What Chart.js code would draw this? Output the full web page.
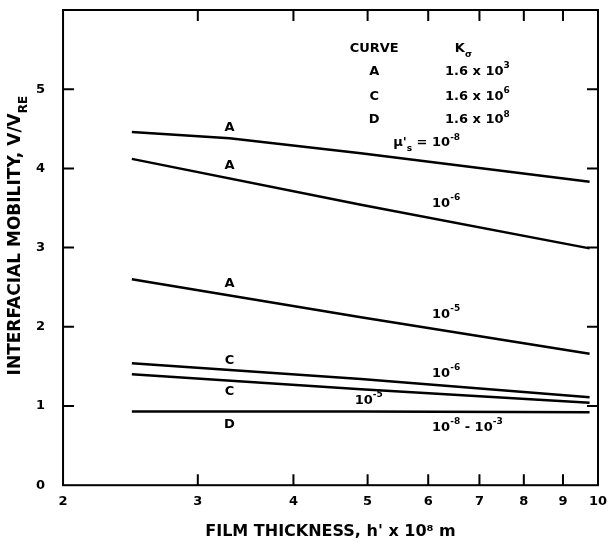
<!DOCTYPE html>
<html>
<head>
<meta charset="utf-8">
<script src="https://cdn.jsdelivr.net/npm/chart.js@4"></script>
<style>
  html, body { margin: 0; padding: 0; background: #fff; }
  #wrap { width: 608px; height: 544px; }
</style>
</head>
<body>
<div id="wrap"><canvas id="myChart"></canvas></div>
<script>
// film thickness h' x 10^8 m, log axis
const xTicks = [2, 3, 4, 5, 6, 7, 8, 9, 10];
const yTicks = [0, 1, 2, 3, 4, 5];

// curve A, mu's = 10^-8 (slightly bent)
const xA1 = [2.46, 3.3, 4.9, 9.75];
const yA1 = [4.46, 4.38, 4.19, 3.83];

// the other curves are straight on the log axis
const xLine = [2.46, 4.9, 9.75];
const yA2 = [4.12, 3.54, 2.99]; // A, 10^-6
const yA3 = [2.60, 2.12, 1.66]; // A, 10^-5
const yC1 = [1.54, 1.34, 1.11]; // C, 10^-6
const yC2 = [1.40, 1.21, 1.04]; // C, 10^-5
const yD  = [0.93, 0.93, 0.92]; // D, 10^-8 - 10^-3

const FONT = "'DejaVu Sans', sans-serif";

// text notes placed in data units (^{..} superscript, _{..} subscript)
const notes = [
  { t: "A", x: 3.3, y: 4.51, a: "center" },
  { t: "A", x: 3.3, y: 4.03, a: "center" },
  { t: "A", x: 3.3, y: 2.55, a: "center" },
  { t: "C", x: 3.3, y: 1.57, a: "center" },
  { t: "C", x: 3.3, y: 1.18, a: "center" },
  { t: "D", x: 3.3, y: 0.76, a: "center" },
  { t: "\u03bc'_{s} = 10^{-8}", x: 5.40, y: 4.32, a: "left" },
  { t: "10^{-6}", x: 6.07, y: 3.56, a: "left" },
  { t: "10^{-5}", x: 6.07, y: 2.15, a: "left" },
  { t: "10^{-6}", x: 6.07, y: 1.41, a: "left" },
  { t: "10^{-5}", x: 4.81, y: 1.07, a: "left" },
  { t: "10^{-8} - 10^{-3}", x: 6.07, y: 0.73, a: "left" },
  { t: "CURVE", x: 5.1, y: 5.51, a: "center" },
  { t: "K_{\u03c3}", x: 6.50, y: 5.51, a: "left" },
  { t: "A", x: 5.1, y: 5.22, a: "center" },
  { t: "C", x: 5.1, y: 4.91, a: "center" },
  { t: "D", x: 5.1, y: 4.61, a: "center" },
  { t: "1.6 x 10^{3}", x: 6.31, y: 5.22, a: "left" },
  { t: "1.6 x 10^{6}", x: 6.31, y: 4.91, a: "left" },
  { t: "1.6 x 10^{8}", x: 6.31, y: 4.61, a: "left" }
];

function pts(xs, ys) {
  return xs.map((x, i) => ({ x: x, y: ys[i] }));
}

function drawRich(ctx, str, x, y, size, align) {
  const parts = [];
  const re = /([\^_])\{([^}]*)\}/g;
  let last = 0, m;
  while ((m = re.exec(str))) {
    if (m.index > last) parts.push({ t: str.slice(last, m.index), mode: 0 });
    parts.push({ t: m[2], mode: m[1] === "^" ? 1 : -1 });
    last = re.lastIndex;
  }
  if (last < str.length) parts.push({ t: str.slice(last), mode: 0 });
  const fontFor = p => "bold " + (p.mode ? Math.round(size * 0.72) : size) + "px " + FONT;
  let w = 0;
  parts.forEach(p => { ctx.font = fontFor(p); p.w = ctx.measureText(p.t).width; w += p.w; });
  let cx = align === "center" ? x - w / 2 : align === "right" ? x - w : x;
  ctx.textAlign = "left";
  ctx.textBaseline = "middle";
  parts.forEach(p => {
    ctx.font = fontFor(p);
    ctx.fillText(p.t, cx, y - p.mode * size * 0.45);
    cx += p.w;
  });
}

const framePlugin = {
  id: "frame",
  afterDatasetsDraw(chart) {
    const ctx = chart.ctx;
    const area = chart.chartArea;
    const xs = chart.scales.x, ys = chart.scales.y;
    ctx.save();
    ctx.strokeStyle = "#000";
    ctx.fillStyle = "#000";
    ctx.lineWidth = 2;
    ctx.strokeRect(area.left, area.top, area.right - area.left, area.bottom - area.top);
    // inward ticks on all four sides
    const len = 11;
    ctx.beginPath();
    xTicks.slice(1, -1).forEach(v => {
      const px = xs.getPixelForValue(v);
      ctx.moveTo(px, area.bottom); ctx.lineTo(px, area.bottom - len);
      ctx.moveTo(px, area.top); ctx.lineTo(px, area.top + len);
    });
    yTicks.slice(1).forEach(v => {
      const py = ys.getPixelForValue(v);
      ctx.moveTo(area.left, py); ctx.lineTo(area.left + len, py);
      ctx.moveTo(area.right, py); ctx.lineTo(area.right - len, py);
    });
    ctx.stroke();
    notes.forEach(n => {
      drawRich(ctx, n.t, xs.getPixelForValue(n.x), ys.getPixelForValue(n.y), 13, n.a);
    });
    // y axis title with subscript
    ctx.translate(16, (area.top + area.bottom) / 2 - 12);
    ctx.rotate(-Math.PI / 2);
    drawRich(ctx, "INTERFACIAL MOBILITY, V/V_{RE}", 0, 0, 17, "center");
    ctx.restore();
  }
};

const lineStyle = { borderColor: "#000", borderWidth: 2.5, pointRadius: 0, fill: false, tension: 0 };

const ctx = document.getElementById("myChart").getContext("2d");
const myChart = new Chart(ctx, {
  type: "line",
  data: {
    datasets: [
      Object.assign({ label: "A 1e-8", data: pts(xA1, yA1) }, lineStyle),
      Object.assign({ label: "A 1e-6", data: pts(xLine, yA2) }, lineStyle),
      Object.assign({ label: "A 1e-5", data: pts(xLine, yA3) }, lineStyle),
      Object.assign({ label: "C 1e-6", data: pts(xLine, yC1) }, lineStyle),
      Object.assign({ label: "C 1e-5", data: pts(xLine, yC2) }, lineStyle),
      Object.assign({ label: "D", data: pts(xLine, yD) }, lineStyle)
    ]
  },
  options: {
    responsive: true,
    maintainAspectRatio: false,
    animation: false,
    layout: { padding: { left: 18, top: 10, right: 10, bottom: 3 } },
    plugins: {
      legend: { display: false },
      tooltip: { enabled: false }
    },
    scales: {
      x: {
        type: "logarithmic",
        min: 2,
        max: 10,
        afterBuildTicks: s => { s.ticks = xTicks.map(v => ({ value: v })); },
        afterFit: s => { s.paddingLeft = 0; s.paddingRight = 0; },
        grid: { display: false, drawTicks: false },
        border: { display: false },
        ticks: {
          color: "#000",
          padding: 9,
          maxRotation: 0,
          autoSkip: false,
          font: { family: FONT, size: 13, weight: "bold" },
          callback: v => String(v)
        },
        title: {
          display: true,
          text: "FILM THICKNESS, h' x 10\u2078 m",
          color: "#000",
          padding: { top: 3, bottom: 0 },
          font: { family: FONT, size: 16, weight: "bold" }
        }
      },
      y: {
        min: 0,
        max: 6,
        afterBuildTicks: s => { s.ticks = yTicks.map(v => ({ value: v })); },
        afterFit: s => { s.paddingTop = 0; s.paddingBottom = 0; },
        grid: { display: false, drawTicks: false },
        border: { display: false },
        ticks: {
          color: "#000",
          padding: 18,
          font: { family: FONT, size: 13, weight: "bold" }
        }
      }
    }
  },
  plugins: [framePlugin]
});
</script>
</body>
</html>
